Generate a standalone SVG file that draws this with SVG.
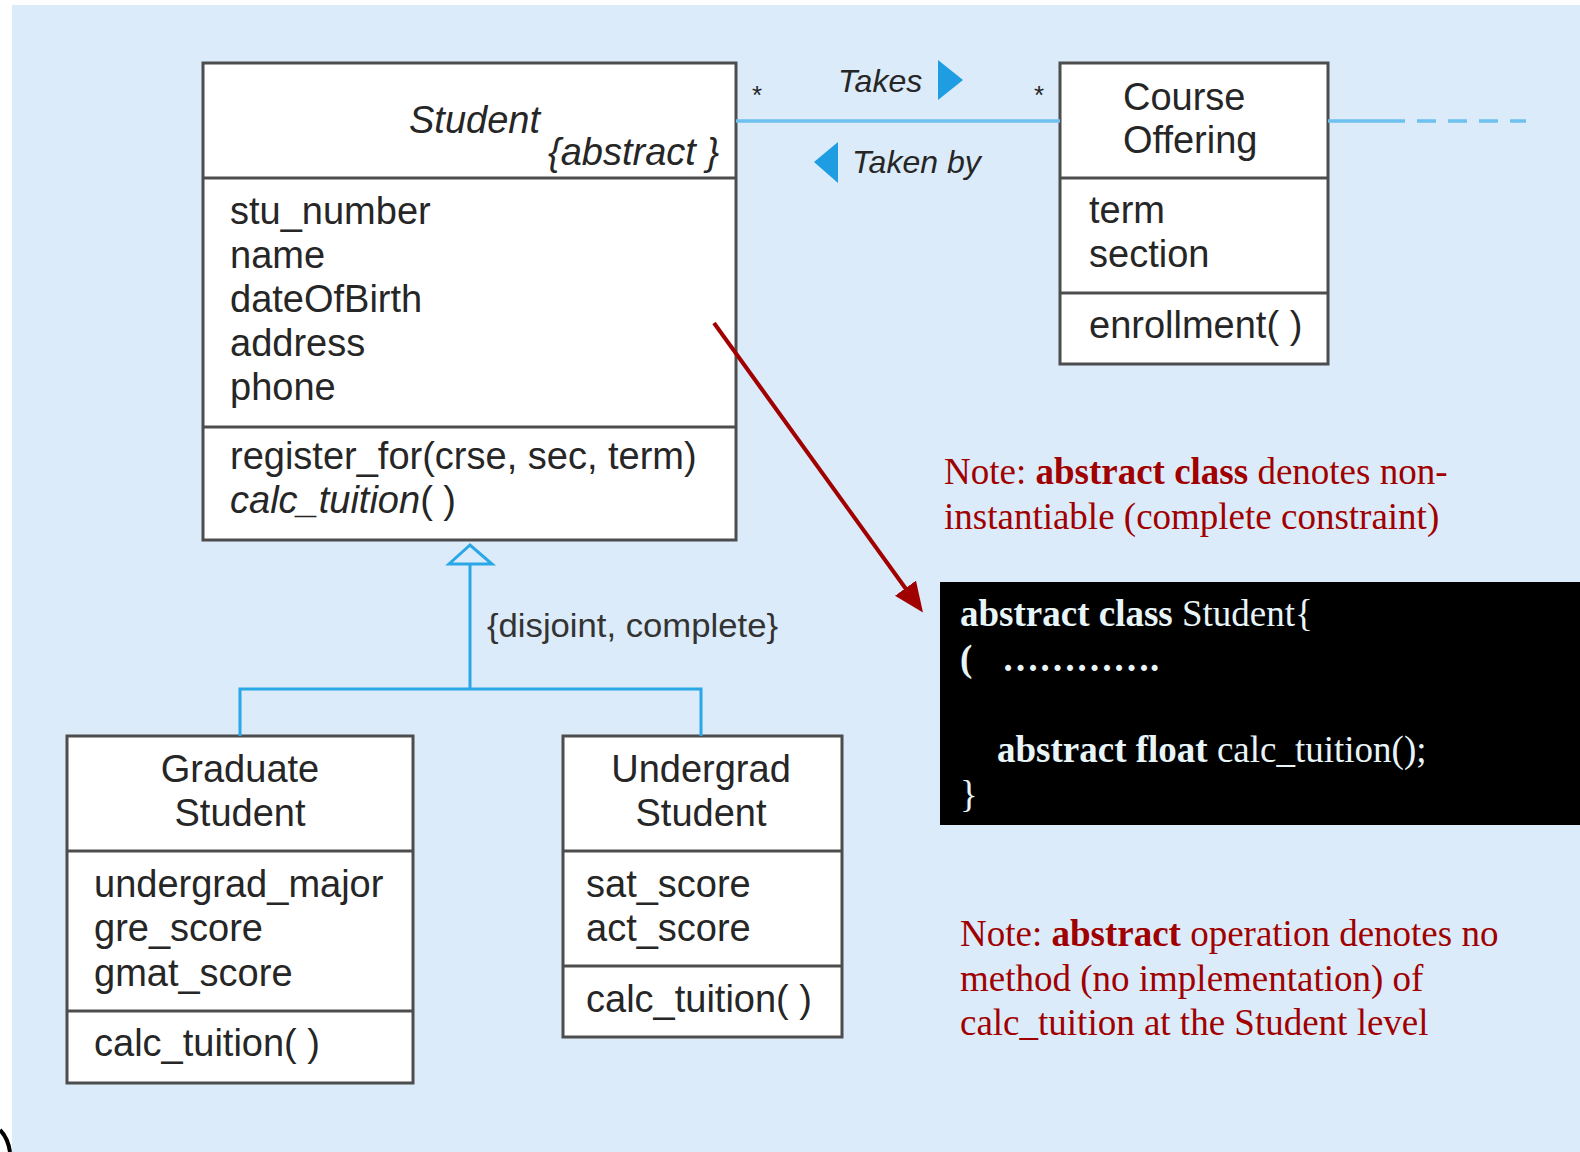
<svg xmlns="http://www.w3.org/2000/svg" width="1580" height="1152" viewBox="0 0 1580 1152">
  <style>
    .box { fill: #ffffff; stroke: #4d4d4d; stroke-width: 3; }
    .div { stroke: #4d4d4d; stroke-width: 3; }
    .uml { font-family: "Liberation Sans", Arial, sans-serif; font-size: 38px; fill: #262626; }
    .it { font-style: italic; }
    .lbl { font-family: "Liberation Sans", Arial, sans-serif; font-size: 32px; font-style: italic; fill: #262626; }
    .mult { font-family: "Liberation Sans", Arial, sans-serif; font-size: 26px; fill: #262626; }
    .cons { font-family: "Liberation Sans", Arial, sans-serif; font-size: 33px; fill: #333333; }
    .assoc { stroke: #6ec1ef; stroke-width: 3.5; fill: none; }
    .gen { stroke: #2aa7e6; stroke-width: 3; fill: none; }
    .dir { fill: #1e9de3; }
    .note { font-family: "Liberation Serif", "Times New Roman", serif; font-size: 37px; fill: #a00000; }
    .code { font-family: "Liberation Serif", "Times New Roman", serif; font-size: 37px; fill: #e8f5f8; }
    .b { font-weight: bold; }
  </style>
  <defs>
    <marker id="redhead" markerUnits="userSpaceOnUse" markerWidth="30" markerHeight="26" refX="1" refY="13" orient="auto">
      <path d="M0,0 L30,13 L0,26 z" fill="#a00000"/>
    </marker>
  </defs>

  <rect x="0" y="0" width="1580" height="1152" fill="#ffffff"/>
  <rect x="12" y="5" width="1568" height="1147" fill="#dbebf9"/>
  <path d="M0,1130 Q8,1138 10,1152" fill="none" stroke="#000000" stroke-width="4"/>

  <g id="student">
    <rect class="box" x="203" y="63" width="533" height="477"/>
    <line class="div" x1="203" y1="178" x2="736" y2="178"/>
    <line class="div" x1="203" y1="427" x2="736" y2="427"/>
    <text class="uml it" x="540" y="133" text-anchor="end">Student</text>
    <text class="uml it" x="548" y="165">{abstract }</text>
    <text class="uml" x="230" y="224">stu_number</text>
    <text class="uml" x="230" y="268">name</text>
    <text class="uml" x="230" y="312">dateOfBirth</text>
    <text class="uml" x="230" y="356">address</text>
    <text class="uml" x="230" y="400">phone</text>
    <text class="uml" x="230" y="469">register_for(crse, sec, term)</text>
    <text class="uml" x="230" y="513"><tspan class="it">calc_tuition</tspan>( )</text>
  </g>

  <g id="course-offering">
    <rect class="box" x="1060" y="63" width="268" height="301"/>
    <line class="div" x1="1060" y1="178" x2="1328" y2="178"/>
    <line class="div" x1="1060" y1="293" x2="1328" y2="293"/>
    <text class="uml" x="1123" y="110">Course</text>
    <text class="uml" x="1123" y="153">Offering</text>
    <text class="uml" x="1089" y="223">term</text>
    <text class="uml" x="1089" y="267">section</text>
    <text class="uml" x="1089" y="338">enrollment( )</text>
  </g>

  <g id="graduate-student">
    <rect class="box" x="67" y="736" width="346" height="347"/>
    <line class="div" x1="67" y1="851" x2="413" y2="851"/>
    <line class="div" x1="67" y1="1011" x2="413" y2="1011"/>
    <text class="uml" x="240" y="782" text-anchor="middle">Graduate</text>
    <text class="uml" x="240" y="826" text-anchor="middle">Student</text>
    <text class="uml" x="94" y="897">undergrad_major</text>
    <text class="uml" x="94" y="941">gre_score</text>
    <text class="uml" x="94" y="986">gmat_score</text>
    <text class="uml" x="94" y="1056">calc_tuition( )</text>
  </g>

  <g id="undergrad-student">
    <rect class="box" x="563" y="736" width="279" height="301"/>
    <line class="div" x1="563" y1="851" x2="842" y2="851"/>
    <line class="div" x1="563" y1="966" x2="842" y2="966"/>
    <text class="uml" x="701" y="782" text-anchor="middle">Undergrad</text>
    <text class="uml" x="701" y="826" text-anchor="middle">Student</text>
    <text class="uml" x="586" y="897">sat_score</text>
    <text class="uml" x="586" y="941">act_score</text>
    <text class="uml" x="586" y="1012">calc_tuition( )</text>
  </g>

  <g id="note-abstract-class">
    <text class="note" x="944" y="484">Note: <tspan class="b">abstract class</tspan> denotes non-</text>
    <text class="note" x="944" y="529">instantiable (complete constraint)</text>
  </g>

  <g id="code-block">
    <rect x="940" y="582" width="640" height="243" fill="#000000"/>
    <text class="code" x="960" y="626"><tspan class="b">abstract class</tspan> Student{</text>
    <text class="code b" x="960" y="671">(<tspan x="1002">………….</tspan></text>
    <text class="code" x="997" y="762"><tspan class="b">abstract float</tspan> calc_tuition();</text>
    <text class="code" x="960" y="807">}</text>
  </g>

  <g id="note-abstract-operation">
    <text class="note" x="960" y="946">Note: <tspan class="b">abstract</tspan> operation denotes no</text>
    <text class="note" x="960" y="991">method (no implementation) of</text>
    <text class="note" x="960" y="1035">calc_tuition at the Student level</text>
  </g>

  <g id="connectors">
    <line class="assoc" x1="736" y1="121" x2="1060" y2="121"/>
    <line class="assoc" x1="1328" y1="121" x2="1405" y2="121"/>
    <line class="assoc" x1="1417" y1="121" x2="1526" y2="121" stroke-dasharray="19 12"/>
    <text class="mult" x="757" y="104" text-anchor="middle">*</text>
    <text class="mult" x="1039" y="104" text-anchor="middle">*</text>
    <text class="lbl" x="838" y="92">Takes</text>
    <polygon class="dir" points="938,60 963,80 938,100"/>
    <polygon class="dir" points="838,142 814,162 838,183"/>
    <text class="lbl" x="852" y="173">Taken by</text>

    <polygon class="gen" points="470,545 449,564 492,564"/>
    <polyline class="gen" points="470,564 470,689"/>
    <polyline class="gen" points="240,736 240,689 701,689 701,736"/>
    <text class="cons" x="487" y="637" textLength="291" lengthAdjust="spacingAndGlyphs">{disjoint, complete}</text>

    <line x1="714" y1="323" x2="906" y2="589" stroke="#a00000" stroke-width="4" marker-end="url(#redhead)"/>
  </g>
</svg>
